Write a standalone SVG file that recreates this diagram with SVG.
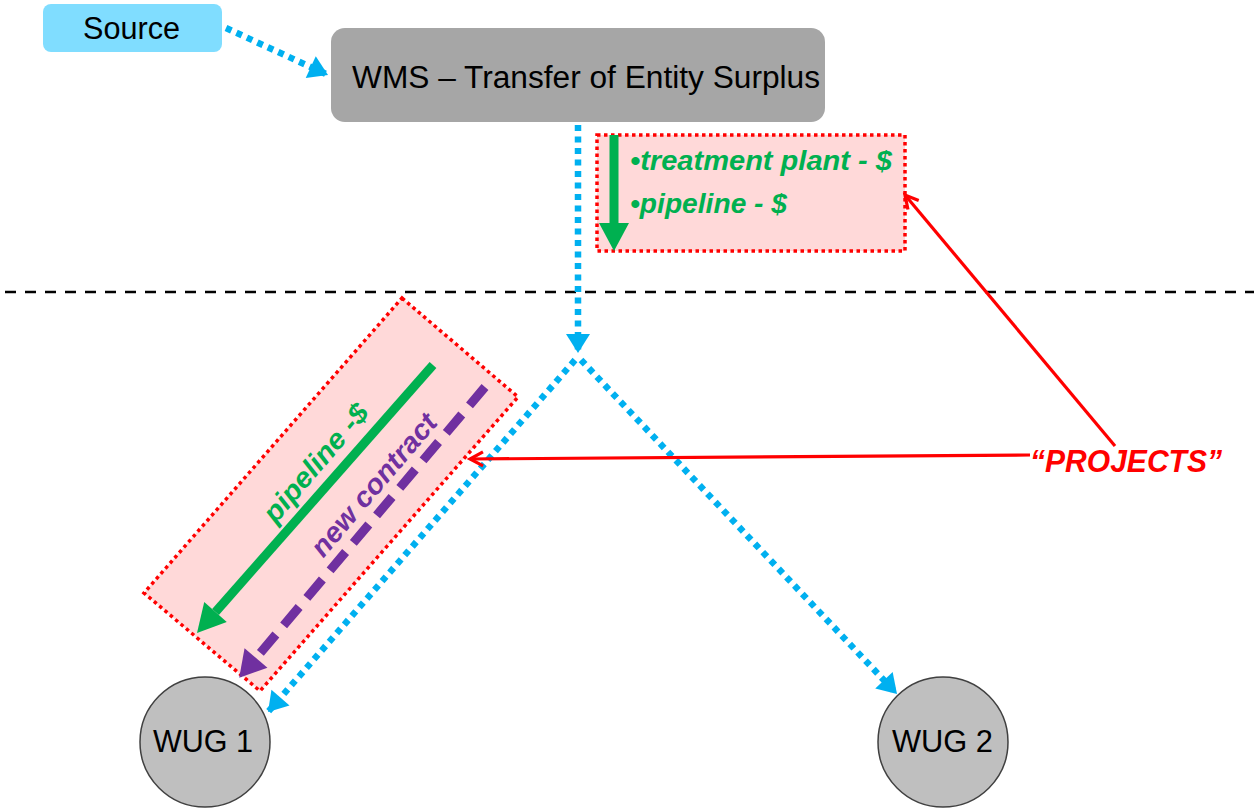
<svg xmlns="http://www.w3.org/2000/svg" width="1254" height="812" viewBox="0 0 1254 812">
<style>
text{font-family:"Liberation Sans",Arial,sans-serif}
.lbl{fill:#000;font-size:31px}
.grn{fill:#00B050;font-weight:bold;font-style:italic}
.pur{fill:#7030A0;font-weight:bold;font-style:italic}
.blue{stroke:#00B0F0;stroke-width:6.5;stroke-dasharray:6 5.5;fill:none}
.redbox{fill:#FFD9D9;stroke:#FF0000;stroke-width:3.5;stroke-dasharray:3.5 3.5}
.redln{stroke:#FF0000;stroke-width:3.2;fill:none}
.wug{fill:#BFBFBF;stroke:#404040;stroke-width:1.5}
</style>
<defs>
<marker id="ab" markerUnits="userSpaceOnUse" markerWidth="22" markerHeight="24" refX="19" refY="12" orient="auto" overflow="visible">
<path d="M0,0 L19,12 L0,24 z" fill="#00B0F0"/>
</marker>
<marker id="ar" markerUnits="userSpaceOnUse" markerWidth="16" markerHeight="16" refX="0" refY="0" orient="auto" overflow="visible">
<path d="M-13,-7 L0,0 L-13,7" fill="none" stroke="#FF0000" stroke-width="3.2"/>
</marker>
<marker id="ag" markerUnits="userSpaceOnUse" markerWidth="28" markerHeight="30" refX="0" refY="15" orient="auto" overflow="visible">
<path d="M0,0 L28,15 L0,30 z" fill="#00B050"/>
</marker>
<marker id="ap" markerUnits="userSpaceOnUse" markerWidth="26" markerHeight="30" refX="0" refY="15" orient="auto" overflow="visible">
<path d="M0,0 L26,15 L0,30 z" fill="#7030A0"/>
</marker>
</defs>
<rect width="1254" height="812" fill="#FFFFFF"/>

<g id="source">
<rect x="43" y="4" width="179" height="48" rx="8" fill="#80DDFF"/>
<text class="lbl" x="83" y="39" textLength="97" lengthAdjust="spacingAndGlyphs">Source</text>
</g>

<g id="wms">
<rect x="331" y="28" width="494" height="94" rx="14" fill="#A6A6A6"/>
<text class="lbl" x="352" y="88" font-size="32" textLength="468" lengthAdjust="spacingAndGlyphs">WMS – Transfer of Entity Surplus</text>
</g>

<g id="costs-top">
<rect class="redbox" x="597" y="135" width="308" height="116"/>
<line x1="614" y1="135" x2="614" y2="223" stroke="#00B050" stroke-width="9" marker-end="url(#ag)"/>
<text class="grn" x="630" y="170" font-size="27" textLength="262" lengthAdjust="spacingAndGlyphs">•treatment plant - $</text>
<text class="grn" x="630" y="213" font-size="27" textLength="157" lengthAdjust="spacingAndGlyphs">•pipeline - $</text>
</g>

<g id="costs-diag">
<polygon class="redbox" points="402,298 518,397 260,691 144,593"/>
<line x1="433" y1="365" x2="215.5" y2="612" stroke="#00B050" stroke-width="9" marker-end="url(#ag)"/>
<line x1="485" y1="387" x2="256" y2="658" stroke="#7030A0" stroke-width="9" stroke-dasharray="24 12" marker-end="url(#ap)"/>
<text class="grn" font-size="28" text-anchor="middle" transform="translate(323,469) rotate(-49.5)" textLength="146" lengthAdjust="spacingAndGlyphs">pipeline -$</text>
<text class="pur" font-size="28" text-anchor="middle" transform="translate(381,491) rotate(-49.5)" textLength="178" lengthAdjust="spacingAndGlyphs">new contract</text>
</g>

<g id="wug1">
<circle class="wug" cx="205" cy="742" r="65"/>
<text class="lbl" x="153" y="752" font-size="30" textLength="100" lengthAdjust="spacingAndGlyphs">WUG 1</text>
</g>

<g id="wug2">
<circle class="wug" cx="943" cy="742" r="65"/>
<text class="lbl" x="892" y="752" font-size="30" textLength="101" lengthAdjust="spacingAndGlyphs">WUG 2</text>
</g>

<g id="projects">
<text x="1030" y="472" font-size="31" font-weight="bold" font-style="italic" fill="#FF0000" textLength="192" lengthAdjust="spacingAndGlyphs">“PROJECTS”</text>
</g>

<g id="connectors">
<line x1="5" y1="292" x2="1254" y2="292" stroke="#000" stroke-width="2.5" stroke-dasharray="11 9"/>
<line class="blue" x1="226" y1="28" x2="328" y2="75" marker-end="url(#ab)"/>
<line class="blue" x1="578" y1="125" x2="578" y2="353" marker-end="url(#ab)"/>
<line class="blue" x1="575" y1="360" x2="268" y2="712" marker-end="url(#ab)"/>
<line class="blue" x1="581" y1="360" x2="897" y2="694" marker-end="url(#ab)"/>
<line class="redln" x1="1030" y1="455" x2="470" y2="459" marker-end="url(#ar)"/>
<line class="redln" x1="1115" y1="446" x2="905" y2="195" marker-end="url(#ar)"/>
</g>
</svg>
